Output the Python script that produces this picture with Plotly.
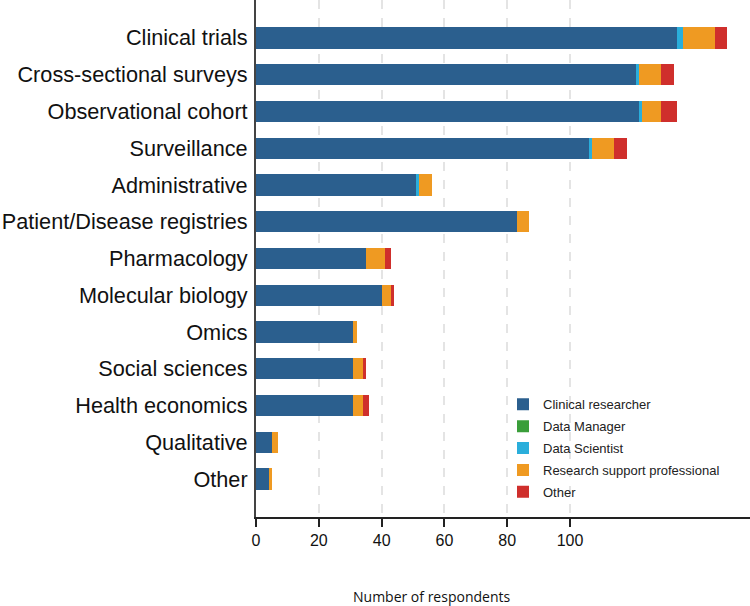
import plotly.graph_objects as go

categories = ["Clinical trials", "Cross-sectional surveys", "Observational cohort", "Surveillance",
              "Administrative", "Patient/Disease registries", "Pharmacology", "Molecular biology",
              "Omics", "Social sciences", "Health economics", "Qualitative", "Other"]

clinical_researcher = [134, 121, 122, 106, 51, 83, 35, 40, 31, 31, 31, 5, 4]
data_manager = [0, 0, 0, 0, 0, 0, 0, 0, 0, 0, 0, 0, 0]
data_scientist = [2, 1, 1, 1, 1, 0, 0, 0, 0, 0, 0, 0, 0]
research_support = [10, 7, 6, 7, 4, 4, 6, 3, 1, 3, 3, 2, 1]
other = [4, 4, 5, 4, 0, 0, 2, 1, 0, 1, 2, 0, 0]

series_names = ["Clinical researcher", "Data Manager", "Data Scientist",
                "Research support professional", "Other"]
series_values = [clinical_researcher, data_manager, data_scientist, research_support, other]
colors = ["#2b5f8e", "#3a9e3a", "#2aaedb", "#ef9a22", "#cf2f2c"]

x_ticks = [0, 20, 40, 60, 80, 100]

fig = go.Figure()
for i, (name, vals, col) in enumerate(zip(series_names, series_values, colors)):
    fig.add_trace(go.Bar(
        y=categories, x=vals, name=name, orientation="h",
        marker=dict(color=col, line=dict(width=0)),
        width=0.58, legendgroup=f"g{i}",
    ))

fig.update_layout(
    barmode="stack",
    width=750, height=606,
    margin=dict(l=256, r=0, t=0, b=89, autoexpand=False),
    plot_bgcolor="white", paper_bgcolor="white",
    font=dict(family="Liberation Sans, Arial", color="#1a1a1a"),
    showlegend=True,
    legend=dict(
        x=0.5, y=0.247, xanchor="left", yanchor="top",
        font=dict(size=13, family="Liberation Sans, Arial", color="#222"),
        bgcolor="rgba(0,0,0,0)", tracegroupgap=2, traceorder="grouped",
    ),
    xaxis=dict(
        range=[0, 157.3], tickvals=x_ticks, ticktext=[str(v) for v in x_ticks],
        showgrid=True, gridcolor="#e4e4e4", griddash="dash", gridwidth=2,
        showline=True, linecolor="#222", linewidth=1.5,
        ticks="outside", ticklen=8, tickwidth=1.5, tickcolor="#222",
        tickfont=dict(size=16, family="Liberation Sans, Arial", color="#111"),
        zeroline=False, fixedrange=True, automargin=False,
    ),
    yaxis=dict(
        categoryorder="array", categoryarray=categories,
        range=[12 + 1.03, -1.03],
        showline=True, linecolor="#444", linewidth=2,
        showgrid=False, ticks="", ticklabelstandoff=2,
        tickfont=dict(size=21.7, family="Liberation Sans, Arial", color="#111"),
        zeroline=False, automargin=False,
    ),
    annotations=[dict(
        text="Number of respondents", xref="paper", yref="paper",
        x=(431 - 256) / 494, y=-(596 - 517) / 517, xanchor="center", yanchor="middle",
        showarrow=False, font=dict(size=14, family="Open Sans", color="#111"),
    )],
)

fig.write_html("out.html", config={"displayModeBar": False},
               post_script="document.body.style.margin='0';document.body.style.overflow='hidden';")
